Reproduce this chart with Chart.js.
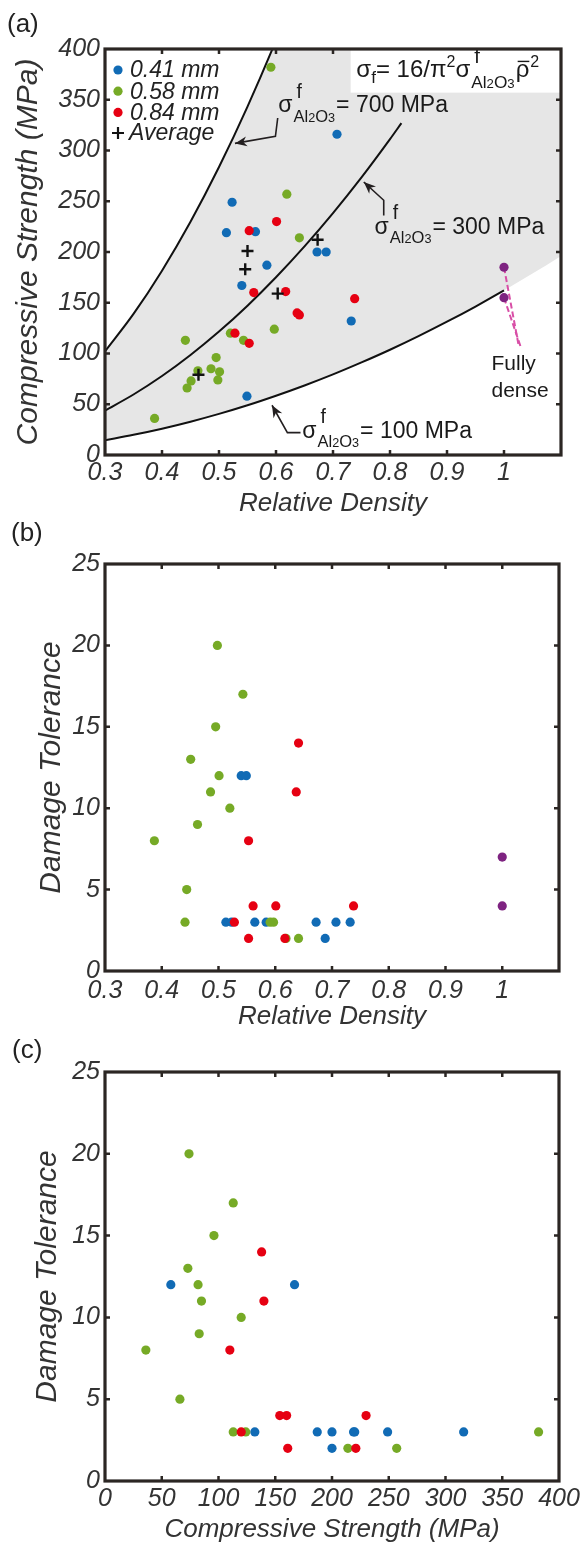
<!DOCTYPE html>
<html>
<head>
<meta charset="utf-8">
<script src="https://cdn.jsdelivr.net/npm/chart.js@4.4.1/dist/chart.umd.min.js"></script>
<style>
  html, body { margin: 0; padding: 0; background: #fff; }
  body { width: 587px; height: 1544px; position: relative; overflow: hidden; }
  canvas { position: absolute; left: 0; }
</style>
</head>
<body>
<canvas id="chartA" width="587" height="520" style="top:0px"></canvas>
<canvas id="chartB" width="587" height="520" style="top:520px"></canvas>
<canvas id="chartC" width="587" height="514" style="top:1030px"></canvas>
<script>
// values
// 0.41 mm struts
const density041   = [0.523, 0.513, 0.564, 0.707, 0.672, 0.688, 0.584, 0.540, 0.549, 0.732];
const strength041  = [249, 219, 220, 316, 200, 200, 187, 167, 58, 132];
const tolerance041 = [3, 3, 3, 3, 3, 2, 3, 12, 12, 3];
// 0.58 mm struts
const density058   = [0.591, 0.619, 0.641, 0.597, 0.441, 0.520, 0.543, 0.495, 0.486, 0.501, 0.463, 0.498, 0.451, 0.444, 0.387];
const strength058  = [382, 257, 214, 124, 113, 120, 113, 96, 85, 82, 83, 74, 73, 66, 36];
const tolerance058 = [3, 2, 2, 3, 3, 10, 17, 15, 11, 12, 9, 20, 13, 5, 8];
// 0.84 mm struts
const density084   = [0.601, 0.553, 0.561, 0.617, 0.637, 0.641, 0.528, 0.553, 0.738];
const strength084  = [230, 221, 160, 161, 140, 138, 120, 110, 154];
const tolerance084 = [4, 2, 4, 2, 11, 14, 3, 8, 4];
// fully dense alumina
const densityDense   = [1, 1];
const strengthDense  = [185, 155];
const toleranceDense = [7, 4];
// averages
const densityAvg  = [0.550, 0.546, 0.603, 0.464, 0.673];
const strengthAvg = [201, 183, 159, 79, 212];

// model curves
const curveDensity = [0.3, 0.35, 0.4, 0.45, 0.5, 0.55, 0.6, 0.65, 0.7, 0.75, 0.8, 0.85, 0.9, 0.95, 1.0, 1.05, 1.1];
const curve700 = [102.1, 139.0, 181.6, 229.8, 283.7, 343.3, 408.5, 479.5, 556.1, 638.3, 726.3, 819.9, 919.2, 1024.1, 1134.8, 1251.1, 1373.1];
const curve100 = [14.6, 19.9, 25.9, 32.8, 40.5, 49.0, 58.4, 68.5, 79.4, 91.2, 103.7, 117.1, 131.3, 146.3, 162.1, 178.7, 196.1];
const curve300Density = [0.3, 0.35, 0.4, 0.45, 0.5, 0.55, 0.6, 0.65, 0.7, 0.75, 0.8, 0.82];
const curve300 = [43.8, 59.6, 77.8, 98.5, 121.6, 147.1, 175.1, 205.5, 238.3, 273.5, 311.2, 327.0];
// leader lines to "Fully dense"
const leaderDensityA = [1, 1.026];
const leaderStrengthA = [185, 107];
const leaderDensityB = [1, 1.029];
const leaderStrengthB = [155, 107];

// tick labels
const densityTicks = [0.3, 0.4, 0.5, 0.6, 0.7, 0.8, 0.9, 1];
const strengthTicks = [0, 50, 100, 150, 200, 250, 300, 350, 400];
const toleranceTicks = [0, 5, 10, 15, 20, 25];

const sizeLabels = ['0.41 mm', '0.58 mm', '0.84 mm'];
const sizeColors = ['#116bb5', '#76aa26', '#e60012'];
const denseColor = '#7e2381';
const FONT = '"Liberation Sans", Arial, Helvetica, sans-serif';

Chart.defaults.font.family = FONT;
Chart.defaults.color = '#333';
Chart.defaults.animation = false;
Chart.defaults.events = [];
Chart.defaults.plugins.legend.display = false;
Chart.defaults.plugins.tooltip.enabled = false;

function pts(xs, ys) {
    return xs.map((x, i) => ({ x: x, y: ys[i] }));
}

function font(size, italic) {
    return (italic ? 'italic ' : '') + size + 'px ' + FONT;
}

function dots(label, xs, ys, color, order) {
    return {
        label: label,
        data: pts(xs, ys),
        backgroundColor: color,
        borderWidth: 0,
        pointRadius: 4.6,
        order: order
    };
}

function curve(xs, ys, extra) {
    return Object.assign({
        type: 'line',
        data: pts(xs, ys),
        borderColor: '#111',
        borderWidth: 2,
        pointRadius: 0,
        fill: false,
        cubicInterpolationMode: 'monotone'
    }, extra);
}

function axis(o) {
    return {
        type: 'linear',
        min: o.min,
        max: o.max,
        grid: { display: false, drawTicks: false },
        border: { display: false },
        afterBuildTicks: s => { s.ticks = o.ticks.map(v => ({ value: v })); },
        afterFit: s => {
            if (o.width) s.width = o.width;
            if (o.height) s.height = o.height;
        },
        ticks: {
            autoSkip: false,
            maxRotation: 0,
            padding: o.tickPad,
            color: '#333',
            font: { size: 25, style: 'italic' },
            callback: v => String(v)
        },
        title: {
            display: true,
            text: o.title,
            color: '#333',
            font: { size: o.titleSize, style: 'italic', lineHeight: 1 },
            padding: o.titlePad
        }
    };
}

// frame with inward ticks on all four sides
const framePlugin = {
    id: 'frame',
    afterDatasetsDraw(chart) {
        const { ctx, chartArea: a, scales: { x, y } } = chart;
        ctx.save();
        ctx.strokeStyle = '#2b2623';
        ctx.lineWidth = 2.5;
        ctx.beginPath();
        x.ticks.forEach(t => {
            const p = x.getPixelForValue(t.value);
            if (p < a.left + 2 || p > a.right - 2) return;
            ctx.moveTo(p, a.bottom); ctx.lineTo(p, a.bottom - 5);
            ctx.moveTo(p, a.top); ctx.lineTo(p, a.top + 5);
        });
        y.ticks.forEach(t => {
            const p = y.getPixelForValue(t.value);
            if (p < a.top + 2 || p > a.bottom - 2) return;
            ctx.moveTo(a.left, p); ctx.lineTo(a.left + 5, p);
            ctx.moveTo(a.right, p); ctx.lineTo(a.right - 5, p);
        });
        ctx.stroke();
        ctx.restore();
    },
    afterDraw(chart, args, opts) {
        const { ctx, chartArea: a } = chart;
        ctx.save();
        ctx.strokeStyle = '#2b2623';
        ctx.lineWidth = 3.2;
        ctx.strokeRect(a.left, a.top, a.width, a.height);
        ctx.fillStyle = '#222';
        ctx.font = font(26);
        ctx.textBaseline = 'middle';
        ctx.fillText(opts.label, opts.x, opts.y);
        ctx.restore();
    }
};

// sigma^f with subscript Al2O3, returns x after it
function sigmaAl(ctx, x, y, s) {
    ctx.font = font(s);
    ctx.fillText('σ', x, y);
    x += ctx.measureText('σ').width + 1;
    ctx.font = font(s * 0.85);
    ctx.fillText('f', x + 3, y - s * 0.62);
    const parts = [['Al', 0.72], ['2', 0.55], ['O', 0.72], ['3', 0.55]];
    parts.forEach(p => {
        ctx.font = font(s * p[1]);
        ctx.fillText(p[0], x, y + s * 0.42);
        x += ctx.measureText(p[0]).width;
    });
    return x + 1;
}

function arrow(ctx, list) {
    ctx.beginPath();
    ctx.moveTo(list[0][0], list[0][1]);
    for (let i = 1; i < list.length; i++) ctx.lineTo(list[i][0], list[i][1]);
    ctx.stroke();
    const [tx, ty] = list[list.length - 1];
    const [px, py] = list[list.length - 2];
    const ang = Math.atan2(ty - py, tx - px);
    const c = Math.cos(ang), s = Math.sin(ang);
    const L = 12, W = 5;
    ctx.beginPath();
    ctx.moveTo(tx, ty);
    ctx.lineTo(tx - L * c + W * s, ty - L * s - W * c);
    ctx.lineTo(tx - 0.7 * L * c, ty - 0.7 * L * s);
    ctx.lineTo(tx - L * c - W * s, ty - L * s + W * c);
    ctx.closePath();
    ctx.fill();
}

const annotA = {
    id: 'annotA',
    afterDatasetsDraw(chart) {
        const { ctx, chartArea: a, scales: { x, y } } = chart;
        const X = v => x.getPixelForValue(v);
        const Y = v => y.getPixelForValue(v);
        ctx.save();
        ctx.textBaseline = 'alphabetic';

        // formula box
        ctx.fillStyle = '#fff';
        ctx.fillRect(X(0.731), a.top, a.right - X(0.731), Y(357) - a.top);
        ctx.fillStyle = '#1a1a1a';
        let fx = X(0.741), fy = Y(372);
        ctx.font = font(24);
        ctx.fillText('σ', fx, fy);
        fx += ctx.measureText('σ').width;
        ctx.font = font(17);
        ctx.fillText('f', fx, fy + 6);
        fx += ctx.measureText('f').width;
        ctx.font = font(24);
        ctx.fillText('= 16/π', fx, fy);
        fx += ctx.measureText('= 16/π').width;
        ctx.font = font(16);
        ctx.fillText('2', fx, fy - 10);
        fx += ctx.measureText('2').width;
        fx = sigmaAl(ctx, fx, fy, 24);
        ctx.font = font(24);
        ctx.fillText('ρ', fx, fy);
        const rw = ctx.measureText('ρ').width;
        ctx.strokeStyle = '#1a1a1a';
        ctx.lineWidth = 1.4;
        ctx.beginPath();
        ctx.moveTo(fx + 2, fy - 16);
        ctx.lineTo(fx + rw, fy - 16);
        ctx.stroke();
        fx += rw;
        ctx.font = font(16);
        ctx.fillText('2', fx + 1, fy - 10);

        // curve labels
        [[0.604, 338, '= 700 MPa'], [0.773, 218, '= 300 MPa'], [0.646, 17, '= 100 MPa']].forEach(l => {
            const ex = sigmaAl(ctx, X(l[0]), Y(l[1]), 23);
            ctx.font = font(23);
            ctx.fillText(l[2], ex, Y(l[1]));
        });

        // arrows
        ctx.strokeStyle = '#231f20';
        ctx.fillStyle = '#231f20';
        ctx.lineWidth = 1.6;
        arrow(ctx, [[X(0.603), Y(332)], [X(0.599), Y(314)], [X(0.528), Y(307)]]);
        arrow(ctx, [[X(0.789), Y(236)], [X(0.789), Y(251)], [X(0.754), Y(269)]]);
        arrow(ctx, [[X(0.643), Y(22)], [X(0.620), Y(22)], [X(0.593), Y(49)]]);

        // Fully dense
        ctx.fillStyle = '#1a1a1a';
        ctx.font = font(21);
        ctx.fillText('Fully', X(0.978), Y(84));
        ctx.fillText('dense', X(0.978), Y(57));

        // legend
        const lx = a.left + 13;
        ctx.textBaseline = 'middle';
        sizeLabels.forEach((lab, i) => {
            const ly = a.top + 21 + i * 21.2;
            ctx.fillStyle = sizeColors[i];
            ctx.beginPath();
            ctx.arc(lx, ly, 4.6, 0, 2 * Math.PI);
            ctx.fill();
            ctx.fillStyle = '#222';
            ctx.font = font(23, true);
            ctx.fillText(lab, lx + 12, ly + 1);
        });
        const ay = a.top + 84;
        ctx.strokeStyle = '#111';
        ctx.lineWidth = 2.2;
        ctx.beginPath();
        ctx.moveTo(lx - 6, ay); ctx.lineTo(lx + 6, ay);
        ctx.moveTo(lx, ay - 6); ctx.lineTo(lx, ay + 6);
        ctx.stroke();
        ctx.fillStyle = '#222';
        ctx.font = font(23, true);
        ctx.fillText('Average', lx + 11, ay + 1);
        ctx.restore();
    }
};

// (a) strength vs density
new Chart(document.getElementById('chartA'), {
    type: 'scatter',
    data: {
        datasets: [
            dots('0.41 mm', density041, strength041, sizeColors[0], 3),
            dots('0.58 mm', density058, strength058, sizeColors[1], 2),
            dots('0.84 mm', density084, strength084, sizeColors[2], 1),
            dots('Fully dense', densityDense, strengthDense, denseColor, 1),
            {
                label: 'Average',
                data: pts(densityAvg, strengthAvg),
                pointStyle: 'cross',
                pointRadius: 6,
                borderColor: '#111',
                borderWidth: 2.4,
                order: 0
            },
            curve(curveDensity, curve700, {
                order: 9,
                fill: { target: 6, above: '#e6e6e6', below: '#e6e6e6' }
            }),
            curve(curveDensity, curve100, {
                order: 8,
                segment: { borderColor: c => c.p0.parsed.x >= 0.999 ? 'rgba(0,0,0,0)' : '#111' }
            }),
            curve(curve300Density, curve300, { order: 7 }),
            curve(leaderDensityA, leaderStrengthA, { order: 4, borderColor: '#d84ea6', borderWidth: 2, borderDash: [6, 3], cubicInterpolationMode: 'default' }),
            curve(leaderDensityB, leaderStrengthB, { order: 4, borderColor: '#d84ea6', borderWidth: 2, borderDash: [6, 3], cubicInterpolationMode: 'default' })
        ]
    },
    options: {
        responsive: false,
        devicePixelRatio: 1,
        layout: { padding: { top: 49, right: 26, left: 0, bottom: 0 } },
        scales: {
            x: axis({ min: 0.3, max: 1.1, ticks: densityTicks, height: 65, tickPad: 3,
                title: 'Relative Density', titleSize: 26, titlePad: { top: 0, bottom: 3 } }),
            y: axis({ min: 0, max: 400, ticks: strengthTicks, width: 105, tickPad: 5,
                title: 'Compressive Strength (MPa)', titleSize: 30, titlePad: { top: 14, bottom: 0 } })
        },
        plugins: { frame: { label: '(a)', x: 7, y: 25 } }
    },
    plugins: [framePlugin, annotA]
});

// (b) damage tolerance vs density
new Chart(document.getElementById('chartB'), {
    type: 'scatter',
    data: {
        datasets: [
            dots('0.41 mm', density041, tolerance041, sizeColors[0], 3),
            dots('0.58 mm', density058, tolerance058, sizeColors[1], 2),
            dots('0.84 mm', density084, tolerance084, sizeColors[2], 1),
            dots('Fully dense', densityDense, toleranceDense, denseColor, 1)
        ]
    },
    options: {
        responsive: false,
        devicePixelRatio: 1,
        layout: { padding: { top: 44, right: 28, left: 0, bottom: 0 } },
        scales: {
            x: axis({ min: 0.3, max: 1.1, ticks: densityTicks, height: 69, tickPad: 5,
                title: 'Relative Density', titleSize: 26, titlePad: { top: 0, bottom: 10 } }),
            y: axis({ min: 0, max: 25, ticks: toleranceTicks, width: 105, tickPad: 5,
                title: 'Damage Tolerance', titleSize: 30, titlePad: { top: 37, bottom: 0 } })
        },
        plugins: { frame: { label: '(b)', x: 11, y: 14 } }
    },
    plugins: [framePlugin]
});

// (c) damage tolerance vs strength
new Chart(document.getElementById('chartC'), {
    type: 'scatter',
    data: {
        datasets: [
            dots('0.41 mm', strength041, tolerance041, sizeColors[0], 3),
            dots('0.58 mm', strength058, tolerance058, sizeColors[1], 2),
            dots('0.84 mm', strength084, tolerance084, sizeColors[2], 1)
        ]
    },
    options: {
        responsive: false,
        devicePixelRatio: 1,
        layout: { padding: { top: 42, right: 28, left: 0, bottom: 0 } },
        scales: {
            x: axis({ min: 0, max: 400, ticks: strengthTicks, height: 63, tickPad: 3,
                title: 'Compressive Strength (MPa)', titleSize: 26, titlePad: { top: 0, bottom: 1 } }),
            y: axis({ min: 0, max: 25, ticks: toleranceTicks, width: 105, tickPad: 5,
                title: 'Damage Tolerance', titleSize: 30, titlePad: { top: 33, bottom: 0 } })
        },
        plugins: { frame: { label: '(c)', x: 12, y: 21 } }
    },
    plugins: [framePlugin]
});
</script>
</body>
</html>
